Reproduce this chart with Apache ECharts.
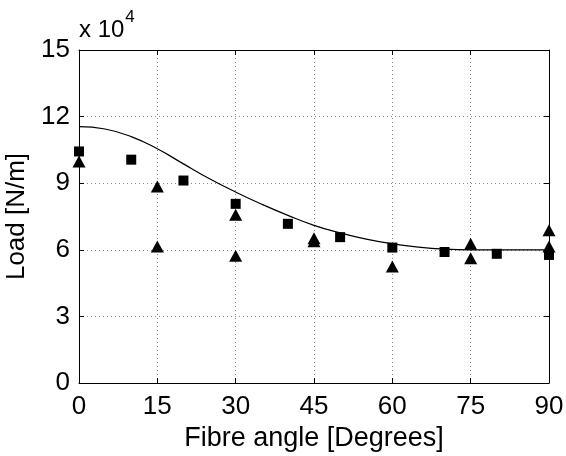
<!DOCTYPE html>
<html><head><meta charset="utf-8">
<script src="https://cdn.jsdelivr.net/npm/echarts@6/dist/echarts.min.js"></script>
<style>html,body{margin:0;padding:0;background:#fff}#c{width:566px;height:456px}</style>
</head><body><div id="c"></div>
<script>
// Values in units of 10^4 N/m
const xTicks = [0, 15, 30, 45, 60, 75, 90];
const yTicks = [0, 3, 6, 9, 12, 15];
const fitAngles = [0, 5, 10, 15, 20, 25, 30, 35, 40, 45, 50, 55, 60, 65, 70, 75, 80, 85, 90];
const fitLoad   = [11.55, 11.44, 11.1, 10.55, 9.87, 9.2, 8.6, 8.05, 7.55, 7.1, 6.76, 6.48, 6.27, 6.12, 6.03, 6.0, 6.0, 6.0, 6.0];
const squareAngles = [0, 10, 20, 30, 40, 50, 60, 70, 80, 90];
const squareLoad   = [10.43, 10.06, 9.12, 8.07, 7.17, 6.57, 6.1, 5.9, 5.82, 5.77];
const triAngles = [0, 15, 15, 30, 30, 45, 45, 60, 75, 75, 90, 90];
const triLoad   = [9.98, 8.85, 6.15, 7.58, 5.73, 6.52, 6.38, 5.25, 6.27, 5.62, 6.88, 6.15];

const zip = (a, b) => a.map((v, i) => [v, b[i]]);
const font = 'Liberation Sans, Arial, sans-serif';
const chart = echarts.init(document.getElementById('c'), null, {renderer: 'canvas'});
const gridLine = {show: true, lineStyle: {color: '#888', type: [1, 3], width: 1}};
const baseX = {
  type: 'value', min: 0, max: 90, interval: 15,
  axisLine: {show: true, onZero: false, lineStyle: {color: '#000', width: 1}},
  axisTick: {show: true, inside: true, length: 5, lineStyle: {color: '#000'}},
};
const baseY = {
  type: 'value', min: 0, max: 15, interval: 3,
  axisLine: {show: true, onZero: false, lineStyle: {color: '#000', width: 1}},
  axisTick: {show: true, inside: true, length: 5, lineStyle: {color: '#000'}},
};
chart.setOption({
  animation: false,
  backgroundColor: '#fff',
  grid: {left: 79, right: 17, top: 50, bottom: 73, containLabel: false, outerBoundsMode: 'none'},
  xAxis: [
    Object.assign({}, baseX, {
      position: 'bottom',
      name: 'Fibre angle [Degrees]', nameLocation: 'middle', nameGap: 38,
      nameTextStyle: {fontFamily: font, fontSize: 27, color: '#000'},
      axisLabel: {fontFamily: font, fontSize: 26, color: '#000', margin: 11},
      splitLine: gridLine
    }),
    Object.assign({}, baseX, {position: 'top', axisLabel: {show: false}, splitLine: {show: false}})
  ],
  yAxis: [
    Object.assign({}, baseY, {
      position: 'left',
      name: 'Load [N/m]', nameLocation: 'middle', nameGap: 43,
      nameTextStyle: {fontFamily: font, fontSize: 26, color: '#000'},
      axisLabel: {fontFamily: font, fontSize: 26, color: '#000', margin: 9},
      splitLine: gridLine
    }),
    Object.assign({}, baseY, {position: 'right', axisLabel: {show: false}, splitLine: {show: false}})
  ],
  graphic: [{
    type: 'text', left: 79, top: 9,
    style: {
      text: '{a|x 10}{b|4}',
      rich: {
        a: {fontFamily: font, fontSize: 24, fill: '#000', verticalAlign: 'bottom', lineHeight: 30},
        b: {fontFamily: font, fontSize: 17, fill: '#000', verticalAlign: 'top', padding: [0, 0, 16, 1]}
      }
    }
  }],
  series: [
    {
      type: 'line', data: zip(fitAngles, fitLoad), smooth: 0.5, showSymbol: false,
      lineStyle: {color: '#000', width: 1.2}, z: 3
    },
    {
      type: 'scatter', data: zip(squareAngles, squareLoad), symbol: 'rect', symbolSize: 10,
      itemStyle: {color: '#000', opacity: 1}, z: 4
    },
    {
      type: 'scatter', data: zip(triAngles, triLoad), symbol: 'triangle', symbolSize: [13, 12],
      itemStyle: {color: '#000', opacity: 1}, z: 4
    }
  ]
});
</script></body></html>
